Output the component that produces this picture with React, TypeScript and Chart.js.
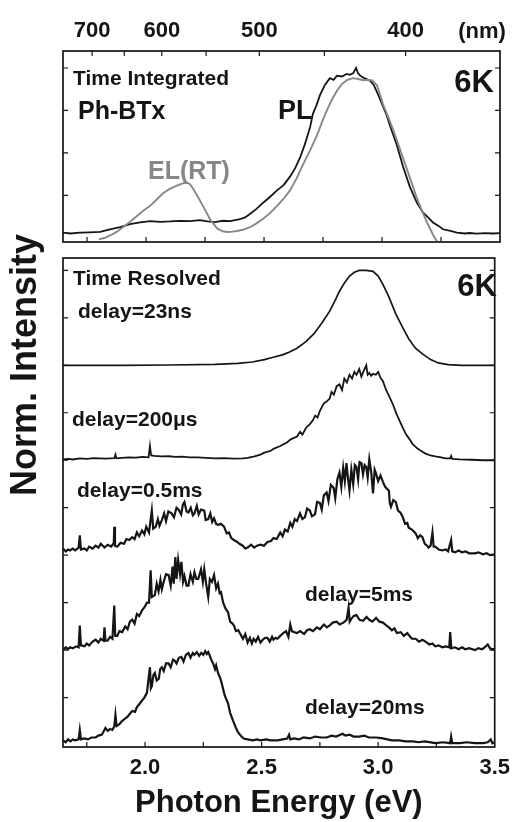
import React, { useEffect, useRef } from "react";
import { Chart, registerables } from "chart.js";

Chart.register(...registerables);

const FONT = "'Liberation Sans', Arial, Helvetica, sans-serif";
const INK = "#151515";
const GREY = "#878787";

// ---- axes ----
const E_MIN = 1.648;
const E_MAX = 3.5;
const energyTickLabels = [2.0, 2.5, 3.0, 3.5];
const energyTickMarks = [1.75, 2.0, 2.25, 2.5, 2.75, 3.0, 3.25];
const wavelengthTickLabels = [700, 600, 500, 400];
const wavelengthTickMarks = [700, 650, 600, 550, 500, 450, 400];
const integratedTicks = [0.25, 0.5, 0.75, 1.0];
const resolvedTicks = [0.5, 1, 1.5, 2, 2.5, 3, 3.5, 4, 4.5, 5];

// ---- time integrated (energy eV, normalized intensity) ----
const plSpectrum = [
  [1.648, 0.03], [1.68, 0.025], [1.72, 0.03], [1.76, 0.032], [1.805, 0.035], [1.847, 0.05],
  [1.89, 0.062], [1.932, 0.08], [1.975, 0.09], [2.017, 0.098], [2.06, 0.094], [2.101, 0.096],
  [2.144, 0.1], [2.186, 0.098], [2.228, 0.104], [2.26, 0.097], [2.292, 0.092], [2.325, 0.1],
  [2.356, 0.098], [2.398, 0.109], [2.42, 0.12], [2.44, 0.14], [2.468, 0.17], [2.495, 0.205],
  [2.525, 0.24], [2.555, 0.279], [2.583, 0.31], [2.61, 0.36], [2.632, 0.41], [2.652, 0.47],
  [2.673, 0.55], [2.695, 0.65], [2.707, 0.73], [2.722, 0.78], [2.737, 0.84], [2.758, 0.9],
  [2.779, 0.94], [2.795, 0.93], [2.809, 0.955], [2.83, 0.95], [2.85, 0.965], [2.864, 0.96],
  [2.878, 0.97], [2.89, 1.0], [2.898, 0.97], [2.907, 0.955], [2.925, 0.94], [2.949, 0.925],
  [2.965, 0.9], [2.983, 0.845], [3.004, 0.775], [3.02, 0.72], [3.034, 0.66], [3.063, 0.545],
  [3.089, 0.42], [3.118, 0.3], [3.148, 0.205], [3.173, 0.15], [3.195, 0.12], [3.216, 0.09],
  [3.24, 0.07], [3.258, 0.05], [3.29, 0.04], [3.317, 0.03], [3.35, 0.025], [3.372, 0.028],
  [3.4, 0.024], [3.436, 0.027], [3.47, 0.025], [3.5, 0.027],
];

const elSpectrum = [
  [1.8, -0.01], [1.826, 0.0], [1.85, 0.015], [1.877, 0.036], [1.91, 0.07], [1.945, 0.109],
  [1.98, 0.15], [2.017, 0.188], [2.045, 0.225], [2.072, 0.262], [2.1, 0.288], [2.131, 0.307],
  [2.155, 0.32], [2.173, 0.326], [2.186, 0.315], [2.199, 0.29], [2.22, 0.24], [2.241, 0.188],
  [2.271, 0.109], [2.301, 0.055], [2.325, 0.038], [2.343, 0.034], [2.365, 0.036], [2.385, 0.04],
  [2.41, 0.047], [2.44, 0.062], [2.468, 0.085], [2.495, 0.11], [2.525, 0.145], [2.555, 0.188],
  [2.583, 0.23], [2.61, 0.279], [2.638, 0.35], [2.665, 0.431], [2.695, 0.515], [2.724, 0.601],
  [2.745, 0.68], [2.767, 0.753], [2.79, 0.82], [2.809, 0.866], [2.83, 0.905], [2.851, 0.928],
  [2.877, 0.94], [2.9, 0.935], [2.919, 0.928], [2.94, 0.93], [2.957, 0.928], [2.978, 0.9],
  [2.99, 0.85], [3.004, 0.787], [3.025, 0.715], [3.046, 0.64], [3.068, 0.555], [3.089, 0.47],
  [3.11, 0.385], [3.131, 0.301], [3.146, 0.24], [3.161, 0.188], [3.175, 0.14], [3.19, 0.092],
  [3.205, 0.05], [3.216, 0.018], [3.233, -0.02],
];

// ---- time resolved (energy eV, normalized intensity, before stacking) ----
const delay23ns = [
  [1.648, 0], [1.9, 0.0], [2.1, 0.003], [2.301, 0.01], [2.398, 0.02], [2.46, 0.035], [2.512, 0.06],
  [2.55, 0.085], [2.589, 0.11], [2.62, 0.14], [2.652, 0.18], [2.69, 0.25], [2.724, 0.33],
  [2.76, 0.45], [2.792, 0.57], [2.815, 0.68], [2.834, 0.78], [2.856, 0.87], [2.877, 0.94],
  [2.898, 0.98], [2.919, 1.0], [2.949, 1.0], [2.978, 0.99], [3.0, 0.94], [3.021, 0.85],
  [3.046, 0.72], [3.076, 0.54], [3.105, 0.4], [3.131, 0.28], [3.16, 0.18], [3.19, 0.12],
  [3.225, 0.06], [3.258, 0.025], [3.3, 0.008], [3.36, 0.0], [3.5, 0.0],
];

const delay200us = [
  [1.648, 0.01], [1.67, 0.015], [1.69, 0.008], [1.72, 0.02], [1.75, 0.015], [1.78, 0.022],
  [1.805, 0.02], [1.83, 0.018], [1.868, 0.022], [1.873, 0.06], [1.877, 0.02], [1.9, 0.025],
  [1.93, 0.03], [1.96, 0.028], [1.99, 0.035], [2.015, 0.03], [2.021, 0.15], [2.026, 0.05],
  [2.04, 0.045], [2.07, 0.04], [2.101, 0.042], [2.13, 0.035], [2.16, 0.038], [2.19, 0.03],
  [2.228, 0.03], [2.26, 0.025], [2.3, 0.02], [2.34, 0.022], [2.38, 0.018], [2.42, 0.02],
  [2.44, 0.025], [2.47, 0.04], [2.495, 0.06], [2.512, 0.08], [2.54, 0.1], [2.551, 0.12],
  [2.58, 0.15], [2.61, 0.19], [2.625, 0.22], [2.652, 0.25], [2.665, 0.3], [2.675, 0.27],
  [2.69, 0.34], [2.707, 0.38], [2.72, 0.42], [2.73, 0.47], [2.74, 0.45], [2.75, 0.52],
  [2.767, 0.6], [2.78, 0.62], [2.792, 0.65], [2.8, 0.72], [2.81, 0.69], [2.822, 0.78],
  [2.834, 0.8], [2.845, 0.74], [2.855, 0.86], [2.866, 0.82], [2.877, 0.9], [2.888, 0.86],
  [2.898, 0.93], [2.907, 0.9], [2.919, 0.96], [2.928, 0.88], [2.936, 0.93], [2.949, 1.0],
  [2.955, 0.9], [2.962, 0.92], [2.97, 0.89], [2.978, 0.91], [2.99, 0.9], [3.0, 0.93],
  [3.01, 0.87], [3.021, 0.83], [3.034, 0.74], [3.046, 0.68], [3.063, 0.59], [3.08, 0.48],
  [3.095, 0.4], [3.106, 0.34], [3.12, 0.27], [3.135, 0.22], [3.148, 0.17], [3.17, 0.12],
  [3.19, 0.09], [3.203, 0.07], [3.225, 0.05], [3.245, 0.04], [3.27, 0.03], [3.288, 0.02],
  [3.309, 0.02], [3.313, 0.045], [3.318, 0.015], [3.35, 0.01], [3.4, 0.005], [3.45, 0.0], [3.5, 0.0],
];

const delay05ms = [
  [1.648, 0.07], [1.66, 0.04], [1.67, 0.06], [1.678, 0.05], [1.69, 0.07], [1.7, 0.05], [1.715, 0.08],
  [1.72, 0.21], [1.725, 0.06], [1.74, 0.07], [1.75, 0.05], [1.76, 0.09], [1.775, 0.07], [1.788, 0.1],
  [1.8, 0.08], [1.81, 0.12], [1.826, 0.08], [1.84, 0.11], [1.855, 0.09], [1.866, 0.13], [1.868, 0.3],
  [1.871, 0.1], [1.881, 0.09], [1.895, 0.13], [1.91, 0.12], [1.92, 0.17], [1.932, 0.16], [1.945, 0.19],
  [1.955, 0.17], [1.965, 0.24], [1.975, 0.2], [1.987, 0.26], [1.997, 0.22], [2.005, 0.3], [2.017, 0.24],
  [2.029, 0.47], [2.035, 0.28], [2.046, 0.3], [2.055, 0.38], [2.062, 0.31], [2.072, 0.37], [2.082, 0.44],
  [2.09, 0.36], [2.1, 0.46], [2.114, 0.44], [2.124, 0.4], [2.135, 0.5], [2.144, 0.48], [2.155, 0.43],
  [2.162, 0.53], [2.169, 0.56], [2.178, 0.46], [2.186, 0.45], [2.196, 0.5], [2.205, 0.42], [2.212, 0.44],
  [2.222, 0.52], [2.23, 0.43], [2.24, 0.48], [2.254, 0.47], [2.26, 0.37], [2.271, 0.38], [2.28, 0.44],
  [2.288, 0.35], [2.296, 0.39], [2.305, 0.33], [2.313, 0.32], [2.325, 0.33], [2.339, 0.3], [2.35, 0.23],
  [2.36, 0.24], [2.37, 0.18], [2.381, 0.16], [2.395, 0.14], [2.405, 0.12], [2.419, 0.1], [2.43, 0.07],
  [2.44, 0.08], [2.455, 0.11], [2.468, 0.08], [2.48, 0.1], [2.495, 0.11], [2.51, 0.1], [2.525, 0.14],
  [2.54, 0.15], [2.551, 0.18], [2.565, 0.17], [2.58, 0.24], [2.59, 0.2], [2.6, 0.27], [2.612, 0.25],
  [2.623, 0.34], [2.632, 0.3], [2.642, 0.38], [2.652, 0.36], [2.665, 0.44], [2.675, 0.38], [2.686, 0.4],
  [2.695, 0.49], [2.707, 0.47], [2.716, 0.41], [2.729, 0.43], [2.738, 0.56], [2.75, 0.55], [2.758, 0.48],
  [2.767, 0.63], [2.779, 0.66], [2.787, 0.57], [2.797, 0.74], [2.809, 0.71], [2.816, 0.6], [2.825, 0.8],
  [2.834, 0.87], [2.842, 0.72], [2.85, 0.92], [2.857, 0.78], [2.864, 0.97], [2.87, 0.82], [2.877, 0.68],
  [2.885, 0.9], [2.893, 0.75], [2.9, 0.95], [2.907, 0.93], [2.914, 0.8], [2.92, 0.98], [2.928, 0.97],
  [2.935, 0.85], [2.942, 0.95], [2.949, 0.93], [2.955, 0.82], [2.962, 1.01], [2.97, 0.88], [2.978, 0.65],
  [2.985, 0.9], [2.991, 0.86], [3.0, 0.78], [3.01, 0.84], [3.021, 0.77], [3.03, 0.72], [3.038, 0.7],
  [3.046, 0.68], [3.05, 0.55], [3.055, 0.51], [3.065, 0.58], [3.076, 0.56], [3.085, 0.47], [3.095, 0.45],
  [3.106, 0.4], [3.115, 0.33], [3.125, 0.34], [3.131, 0.29], [3.145, 0.27], [3.161, 0.23], [3.17, 0.18],
  [3.18, 0.21], [3.19, 0.19], [3.2, 0.12], [3.21, 0.1], [3.216, 0.08], [3.225, 0.1], [3.233, 0.24],
  [3.238, 0.09], [3.245, 0.09], [3.26, 0.06], [3.275, 0.05], [3.29, 0.06], [3.3, 0.04], [3.313, 0.16],
  [3.318, 0.04], [3.33, 0.03], [3.345, 0.05], [3.36, 0.03], [3.375, 0.04], [3.39, 0.02], [3.415, 0.02],
  [3.43, 0.03], [3.45, 0.01], [3.465, 0.02], [3.48, 0.0], [3.5, 0.01],
];

const delay5ms = [
  [1.648, 0.0], [1.66, 0.03], [1.67, 0.01], [1.678, 0.03], [1.69, 0.02], [1.705, 0.04], [1.715, 0.03],
  [1.72, 0.26], [1.725, 0.05], [1.74, 0.04], [1.75, 0.07], [1.76, 0.05], [1.775, 0.09], [1.788, 0.11],
  [1.8, 0.08], [1.81, 0.12], [1.822, 0.1], [1.826, 0.24], [1.83, 0.1], [1.839, 0.1], [1.85, 0.14],
  [1.86, 0.12], [1.868, 0.47], [1.872, 0.15], [1.881, 0.15], [1.89, 0.2], [1.902, 0.19], [1.915, 0.25],
  [1.925, 0.22], [1.935, 0.3], [1.945, 0.32], [1.955, 0.28], [1.965, 0.38], [1.975, 0.36], [1.987, 0.42],
  [1.997, 0.45], [2.008, 0.5], [2.017, 0.5], [2.024, 0.84], [2.029, 0.56], [2.042, 0.58], [2.05, 0.7],
  [2.058, 0.62], [2.066, 0.74], [2.072, 0.64], [2.08, 0.72], [2.09, 0.8], [2.101, 0.79], [2.11, 0.68],
  [2.118, 0.88], [2.123, 0.7], [2.13, 0.98], [2.135, 0.75], [2.142, 0.95], [2.15, 0.8], [2.156, 0.93],
  [2.163, 0.72], [2.169, 0.78], [2.178, 0.68], [2.186, 0.68], [2.195, 0.8], [2.205, 0.72], [2.212, 0.82],
  [2.22, 0.75], [2.228, 0.75], [2.24, 0.85], [2.248, 0.72], [2.254, 0.85], [2.262, 0.7], [2.271, 0.56],
  [2.278, 0.75], [2.287, 0.72], [2.296, 0.79], [2.305, 0.65], [2.313, 0.7], [2.32, 0.6], [2.326, 0.61],
  [2.335, 0.5], [2.345, 0.44], [2.356, 0.4], [2.365, 0.3], [2.375, 0.28], [2.381, 0.26], [2.39, 0.2],
  [2.4, 0.21], [2.411, 0.16], [2.42, 0.12], [2.43, 0.17], [2.44, 0.08], [2.45, 0.13], [2.458, 0.07],
  [2.466, 0.12], [2.475, 0.09], [2.485, 0.14], [2.495, 0.08], [2.505, 0.11], [2.515, 0.13], [2.525, 0.13],
  [2.535, 0.09], [2.545, 0.14], [2.551, 0.11], [2.56, 0.13], [2.568, 0.12], [2.58, 0.15], [2.593, 0.18],
  [2.605, 0.2], [2.615, 0.14], [2.623, 0.27], [2.63, 0.2], [2.64, 0.19], [2.652, 0.18], [2.665, 0.2],
  [2.682, 0.17], [2.695, 0.21], [2.707, 0.22], [2.72, 0.2], [2.737, 0.24], [2.75, 0.22], [2.767, 0.27],
  [2.78, 0.24], [2.792, 0.26], [2.805, 0.29], [2.822, 0.3], [2.835, 0.27], [2.851, 0.29], [2.865, 0.32],
  [2.873, 0.45], [2.878, 0.3], [2.885, 0.33], [2.895, 0.36], [2.907, 0.37], [2.92, 0.32], [2.936, 0.31],
  [2.95, 0.35], [2.962, 0.32], [2.975, 0.3], [2.991, 0.34], [3.005, 0.3], [3.021, 0.29], [3.035, 0.26],
  [3.046, 0.24], [3.059, 0.21], [3.07, 0.23], [3.08, 0.18], [3.097, 0.19], [3.11, 0.15], [3.125, 0.18],
  [3.131, 0.16], [3.145, 0.12], [3.161, 0.12], [3.175, 0.09], [3.19, 0.11], [3.203, 0.09], [3.22, 0.06],
  [3.233, 0.07], [3.245, 0.04], [3.26, 0.05], [3.275, 0.03], [3.29, 0.04], [3.305, 0.03], [3.309, 0.19],
  [3.314, 0.02], [3.33, 0.03], [3.345, 0.01], [3.36, 0.03], [3.373, 0.01], [3.39, 0.02], [3.415, 0.0],
  [3.43, 0.02], [3.445, 0.01], [3.457, 0.03], [3.47, 0.06], [3.48, 0.02], [3.49, 0.01], [3.5, 0.01],
];

const delay20ms = [
  [1.648, 0.05], [1.66, 0.03], [1.67, 0.06], [1.68, 0.04], [1.69, 0.06], [1.7, 0.05], [1.715, 0.06],
  [1.72, 0.16], [1.725, 0.06], [1.74, 0.07], [1.755, 0.06], [1.77, 0.08], [1.788, 0.08], [1.8, 0.1],
  [1.815, 0.11], [1.83, 0.18], [1.84, 0.15], [1.85, 0.17], [1.86, 0.16], [1.868, 0.2], [1.873, 0.32],
  [1.878, 0.2], [1.89, 0.22], [1.9, 0.25], [1.915, 0.28], [1.925, 0.3], [1.935, 0.33], [1.945, 0.36],
  [1.957, 0.35], [1.965, 0.4], [1.975, 0.43], [1.987, 0.47], [1.997, 0.5], [2.008, 0.55], [2.014, 0.68],
  [2.021, 0.82], [2.025, 0.6], [2.029, 0.62], [2.036, 0.74], [2.042, 0.76], [2.05, 0.68], [2.059, 0.7],
  [2.065, 0.8], [2.072, 0.82], [2.08, 0.78], [2.09, 0.86], [2.101, 0.86], [2.11, 0.82], [2.12, 0.9],
  [2.127, 0.89], [2.135, 0.86], [2.145, 0.92], [2.156, 0.93], [2.165, 0.88], [2.175, 0.95], [2.186, 0.97],
  [2.195, 0.92], [2.205, 0.97], [2.212, 0.95], [2.222, 0.98], [2.232, 0.94], [2.241, 0.97], [2.25, 0.95],
  [2.258, 0.99], [2.265, 0.96], [2.271, 0.98], [2.278, 0.94], [2.284, 0.9], [2.292, 0.86], [2.3, 0.8],
  [2.305, 0.84], [2.313, 0.76], [2.32, 0.72], [2.326, 0.68], [2.334, 0.6], [2.342, 0.52], [2.356, 0.44],
  [2.365, 0.34], [2.377, 0.26], [2.39, 0.18], [2.398, 0.14], [2.41, 0.1], [2.423, 0.07], [2.44, 0.06],
  [2.462, 0.05], [2.48, 0.06], [2.495, 0.05], [2.52, 0.06], [2.54, 0.05], [2.568, 0.05], [2.59, 0.06],
  [2.61, 0.07], [2.618, 0.11], [2.623, 0.06], [2.64, 0.07], [2.66, 0.06], [2.68, 0.08], [2.707, 0.07],
  [2.73, 0.09], [2.755, 0.08], [2.779, 0.08], [2.8, 0.1], [2.82, 0.09], [2.847, 0.12], [2.86, 0.1],
  [2.877, 0.11], [2.895, 0.09], [2.919, 0.09], [2.94, 0.1], [2.96, 0.08], [2.991, 0.08], [3.02, 0.07],
  [3.059, 0.05], [3.09, 0.05], [3.118, 0.04], [3.15, 0.04], [3.173, 0.03], [3.2, 0.04], [3.245, 0.02],
  [3.28, 0.03], [3.309, 0.02], [3.313, 0.09], [3.318, 0.02], [3.35, 0.02], [3.38, 0.03], [3.415, 0.02],
  [3.45, 0.02], [3.47, 0.03], [3.483, 0.06], [3.49, 0.02], [3.5, 0.03],
];

const delayLabels = ["delay=23ns", "delay=200μs", "delay=0.5ms", "delay=5ms", "delay=20ms"];
const delaySeries = [delay23ns, delay200us, delay05ms, delay5ms, delay20ms];
const delayOffsets = [4, 3, 2, 1, 0];
const delayLineWidths = [1.7, 1.8, 2.2, 2.2, 2.2];

type Txt = { text: string; x: number; y: number; size: number; color?: string; align?: CanvasTextAlign; rotate?: boolean };

const framePlugin = {
  id: "frame",
  afterDatasetsDraw(chart: any, _args: any, opts: any) {
    const { ctx, chartArea: a } = chart;
    const xs = chart.scales.x;
    const ys = chart.scales.y;
    ctx.save();
    ctx.strokeStyle = INK;
    ctx.lineWidth = 1.7;
    ctx.strokeRect(a.left, a.top, a.right - a.left, a.bottom - a.top);
    const L = 5;
    ctx.lineWidth = 1.2;
    ctx.beginPath();
    (opts.bottomTicks || []).forEach((v: number) => {
      const p = xs.getPixelForValue(v);
      ctx.moveTo(p, a.bottom);
      ctx.lineTo(p, a.bottom - L);
    });
    (opts.topTicks || []).forEach((v: number) => {
      const p = xs.getPixelForValue(v);
      ctx.moveTo(p, a.top);
      ctx.lineTo(p, a.top + L);
    });
    (opts.yTicks || []).forEach((v: number) => {
      const p = ys.getPixelForValue(v);
      ctx.moveTo(a.left, p);
      ctx.lineTo(a.left + L, p);
      ctx.moveTo(a.right, p);
      ctx.lineTo(a.right - L, p);
    });
    ctx.stroke();
    (opts.texts || []).forEach((t: Txt) => {
      ctx.save();
      ctx.font = `bold ${t.size}px ${FONT}`;
      ctx.fillStyle = t.color || INK;
      ctx.textAlign = t.align || "left";
      ctx.textBaseline = "alphabetic";
      if (t.rotate) {
        ctx.translate(t.x, t.y);
        ctx.rotate(-Math.PI / 2);
        ctx.fillText(t.text, 0, 0);
      } else {
        ctx.fillText(t.text, t.x, t.y);
      }
      ctx.restore();
    });
    ctx.restore();
  },
};

const toPoints = (pairs: number[][], offset = 0) => pairs.map(([x, y]) => ({ x, y: y + offset }));

function topConfig(): any {
  return {
    type: "line",
    data: {
      datasets: [
        { label: "EL(RT)", data: toPoints(elSpectrum), borderColor: GREY, borderWidth: 1.9, pointRadius: 0, tension: 0 },
        { label: "PL", data: toPoints(plSpectrum), borderColor: INK, borderWidth: 1.8, pointRadius: 0, tension: 0 },
      ],
    },
    options: {
      animation: false,
      responsive: false,
      events: [],
      layout: { padding: { left: 63, right: 18, top: 0, bottom: 8 } },
      plugins: {
        legend: { display: false },
        tooltip: { enabled: false },
        frame: {
          bottomTicks: energyTickMarks,
          topTicks: wavelengthTickMarks.map((nm) => 1240 / nm),
          yTicks: integratedTicks,
          texts: [
            { text: "Time Integrated", x: 73, y: 85, size: 21 },
            { text: "Ph-BTx", x: 78, y: 119, size: 25 },
            { text: "PL", x: 278, y: 119, size: 27 },
            { text: "EL(RT)", x: 148, y: 179, size: 25, color: GREY },
            { text: "6K", x: 494, y: 92, size: 31, align: "right" },
            { text: "(nm)", x: 482, y: 38, size: 22, align: "center" },
          ],
        },
      },
      scales: {
        x: { type: "linear", min: E_MIN, max: E_MAX, display: false },
        xTop: {
          type: "linear",
          position: "top",
          min: E_MIN,
          max: E_MAX,
          grid: { display: false, drawTicks: false },
          border: { display: false },
          afterBuildTicks: (s: any) => {
            s.ticks = wavelengthTickLabels.map((nm) => ({ value: 1240 / nm }));
          },
          afterFit: (s: any) => {
            s.height = 51;
          },
          ticks: {
            autoSkip: false,
            maxRotation: 0,
            padding: 7,
            color: INK,
            font: { family: FONT, size: 22, weight: "bold" },
            callback: (v: any) => String(Math.round(1240 / Number(v))),
          },
        },
        y: { type: "linear", min: -0.025, max: 1.1, display: false },
      },
    },
    plugins: [framePlugin],
  };
}

function bottomConfig(): any {
  const datasets = delaySeries.map((s, i) => ({
    label: delayLabels[i],
    data: toPoints(s, delayOffsets[i]),
    borderColor: INK,
    borderWidth: delayLineWidths[i],
    pointRadius: 0,
    tension: 0,
  }));
  return {
    type: "line",
    data: { datasets },
    options: {
      animation: false,
      responsive: false,
      events: [],
      layout: { padding: { left: 63, right: 18, top: 258, bottom: 0 } },
      plugins: {
        legend: { display: false },
        tooltip: { enabled: false },
        frame: {
          bottomTicks: energyTickMarks,
          topTicks: [],
          yTicks: resolvedTicks,
          texts: [
            { text: "Time Resolved", x: 73, y: 285, size: 21 },
            { text: "6K", x: 497, y: 296, size: 31, align: "right" },
            { text: delayLabels[0], x: 78, y: 318, size: 21 },
            { text: delayLabels[1], x: 72, y: 426, size: 21 },
            { text: delayLabels[2], x: 77, y: 497, size: 21 },
            { text: delayLabels[3], x: 305, y: 601, size: 21 },
            { text: delayLabels[4], x: 305, y: 714, size: 21 },
            { text: "Norm. Intensity", x: 36, y: 365, size: 36, align: "center", rotate: true },
          ],
        },
      },
      scales: {
        x: {
          type: "linear",
          position: "bottom",
          min: E_MIN,
          max: E_MAX,
          grid: { display: false, drawTicks: false },
          border: { display: false },
          afterBuildTicks: (s: any) => {
            s.ticks = energyTickLabels.map((v) => ({ value: v }));
          },
          afterFit: (s: any) => {
            s.height = 75;
          },
          ticks: {
            autoSkip: false,
            maxRotation: 0,
            padding: 8,
            color: INK,
            font: { family: FONT, size: 22, weight: "bold" },
            callback: (v: any) => Number(v).toFixed(1),
          },
          title: {
            display: true,
            text: "Photon Energy (eV)",
            color: INK,
            padding: { top: 0, bottom: 0 },
            font: { family: FONT, size: 31, weight: "bold" },
          },
        },
        y: { type: "linear", min: -0.02, max: 5.13, display: false },
      },
    },
    plugins: [framePlugin],
  };
}

export default function App() {
  const topRef = useRef<HTMLCanvasElement>(null);
  const botRef = useRef<HTMLCanvasElement>(null);
  useEffect(() => {
    const bottom = new Chart(botRef.current as HTMLCanvasElement, bottomConfig());
    const top = new Chart(topRef.current as HTMLCanvasElement, topConfig());
    return () => {
      top.destroy();
      bottom.destroy();
    };
  }, []);
  return (
    <div style={{ position: "absolute", left: 0, top: 0, width: 518, height: 822, background: "#fff", overflow: "hidden" }}>
      <canvas ref={botRef} width={518} height={822} style={{ position: "absolute", left: 0, top: 0, width: 518, height: 822 }} />
      <canvas ref={topRef} width={518} height={250} style={{ position: "absolute", left: 0, top: 0, width: 518, height: 250 }} />
    </div>
  );
}
